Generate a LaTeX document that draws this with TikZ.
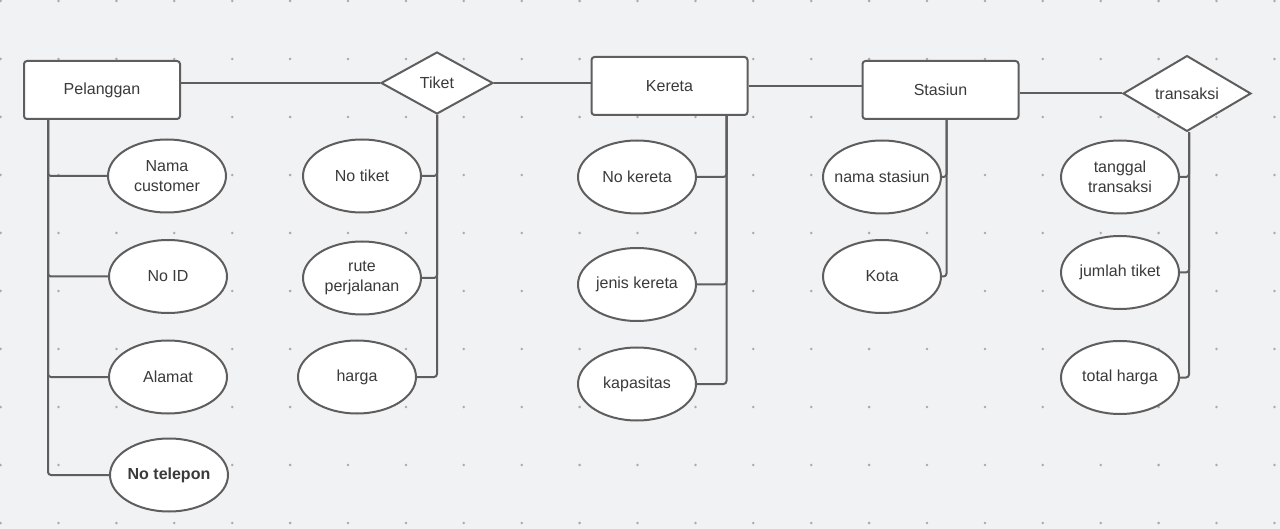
\documentclass[tikz,border=0pt]{standalone}
\usepackage{fontspec}
\setmainfont{Liberation Sans}
\usetikzlibrary{shapes.geometric}

\definecolor{bgcol}{HTML}{F1F2F4}
\definecolor{linecol}{HTML}{5E5E5E}
\definecolor{txtcol}{HTML}{3A3A3A}
\definecolor{dotcol}{HTML}{A9AAAC}

\tikzset{
  entity/.style={draw=linecol,fill=white,line width=2pt,rounded corners=3pt,
    minimum width=156pt,minimum height=58pt,inner sep=0pt},
  relation/.style={draw=linecol,fill=white,line width=2pt,diamond,inner sep=0pt},
  attr/.style={draw=linecol,fill=white,line width=2pt,ellipse,
    minimum width=118pt,minimum height=73pt,inner ysep=0pt,inner xsep=-6pt,align=center},
  link/.style={draw=linecol,line width=2pt,rounded corners=3pt}
}

\begin{document}
\begin{tikzpicture}[x=1pt,y=-1pt,text=txtcol,font=\fontsize{16}{19.5}\selectfont]
% canvas and dot grid
\fill[bgcol] (0,0) rectangle (1280,529);
\useasboundingbox (0,0) rectangle (1280,529);
\foreach \i in {0,...,22}
  \foreach \j in {0,...,9}
    \fill[dotcol] (0.6+57.9*\i,1+58*\j) circle (1.4pt);

% entities and relations
\node[entity] (pel) at (102,90) {Pelanggan};
\node[relation,minimum width=112pt,minimum height=62pt] (tik) at (437,83) {Tiket};
\node[entity] (ker) at (669.5,86) {Kereta};
\node[entity] (sta) at (940.5,90) {Stasiun};
\node[relation,minimum width=128pt,minimum height=71pt] (trs) at (1187,93.5) {transaksi};

% attributes
\node[attr] (nama) at (167,176) {Nama\\customer};
\node[attr] (noid) at (168,276.5) {No ID};
\node[attr] (alamat) at (168,377) {Alamat};
\node[attr,font=\fontsize{16}{19.5}\selectfont\bfseries] (telp) at (169,475) {No telepon};

\node[attr] (notik) at (362,176) {No tiket};
\node[attr] (rute) at (362,278) {rute\\perjalanan};
\node[attr] (harga) at (357,377) {harga};

\node[attr] (noker) at (637,177) {No kereta};
\node[attr] (jenis) at (637,284.5) {jenis kereta};
\node[attr] (kapas) at (637,384) {kapasitas};

\node[attr] (nmsta) at (882,177) {nama stasiun};
\node[attr] (kota) at (882,276.5) {Kota};

\node[attr] (tgl) at (1120,177) {tanggal\\transaksi};
\node[attr] (jml) at (1120,272.5) {jumlah tiket};
\node[attr] (total) at (1120,377.5) {total harga};

% relationships
\draw[link] (tik.west) -- (tik.west -| pel.east);
\draw[link] (tik.east) -- (tik.east -| ker.west);
\draw[link] (ker.east) -- (ker.east -| sta.west);
\draw[link] (trs.west) -- (trs.west -| sta.east);

% attribute links
\foreach \a in {nama,noid,alamat,telp}
  \draw[link] ([xshift=25pt]pel.south west) |- (\a.west);
\foreach \a in {notik,rute,harga}
  \draw[link] (tik.south) |- (\a.east);
\foreach \a in {noker,jenis,kapas}
  \draw[link] ([xshift=-22pt]ker.south east) |- (\a.east);
\foreach \a in {nmsta,kota}
  \draw[link] ([xshift=6pt]sta.south) |- (\a.east);
\foreach \a in {tgl,jml,total}
  \draw[link] ([xshift=2pt]trs.south) |- (\a.east);
\end{tikzpicture}
\end{document}
